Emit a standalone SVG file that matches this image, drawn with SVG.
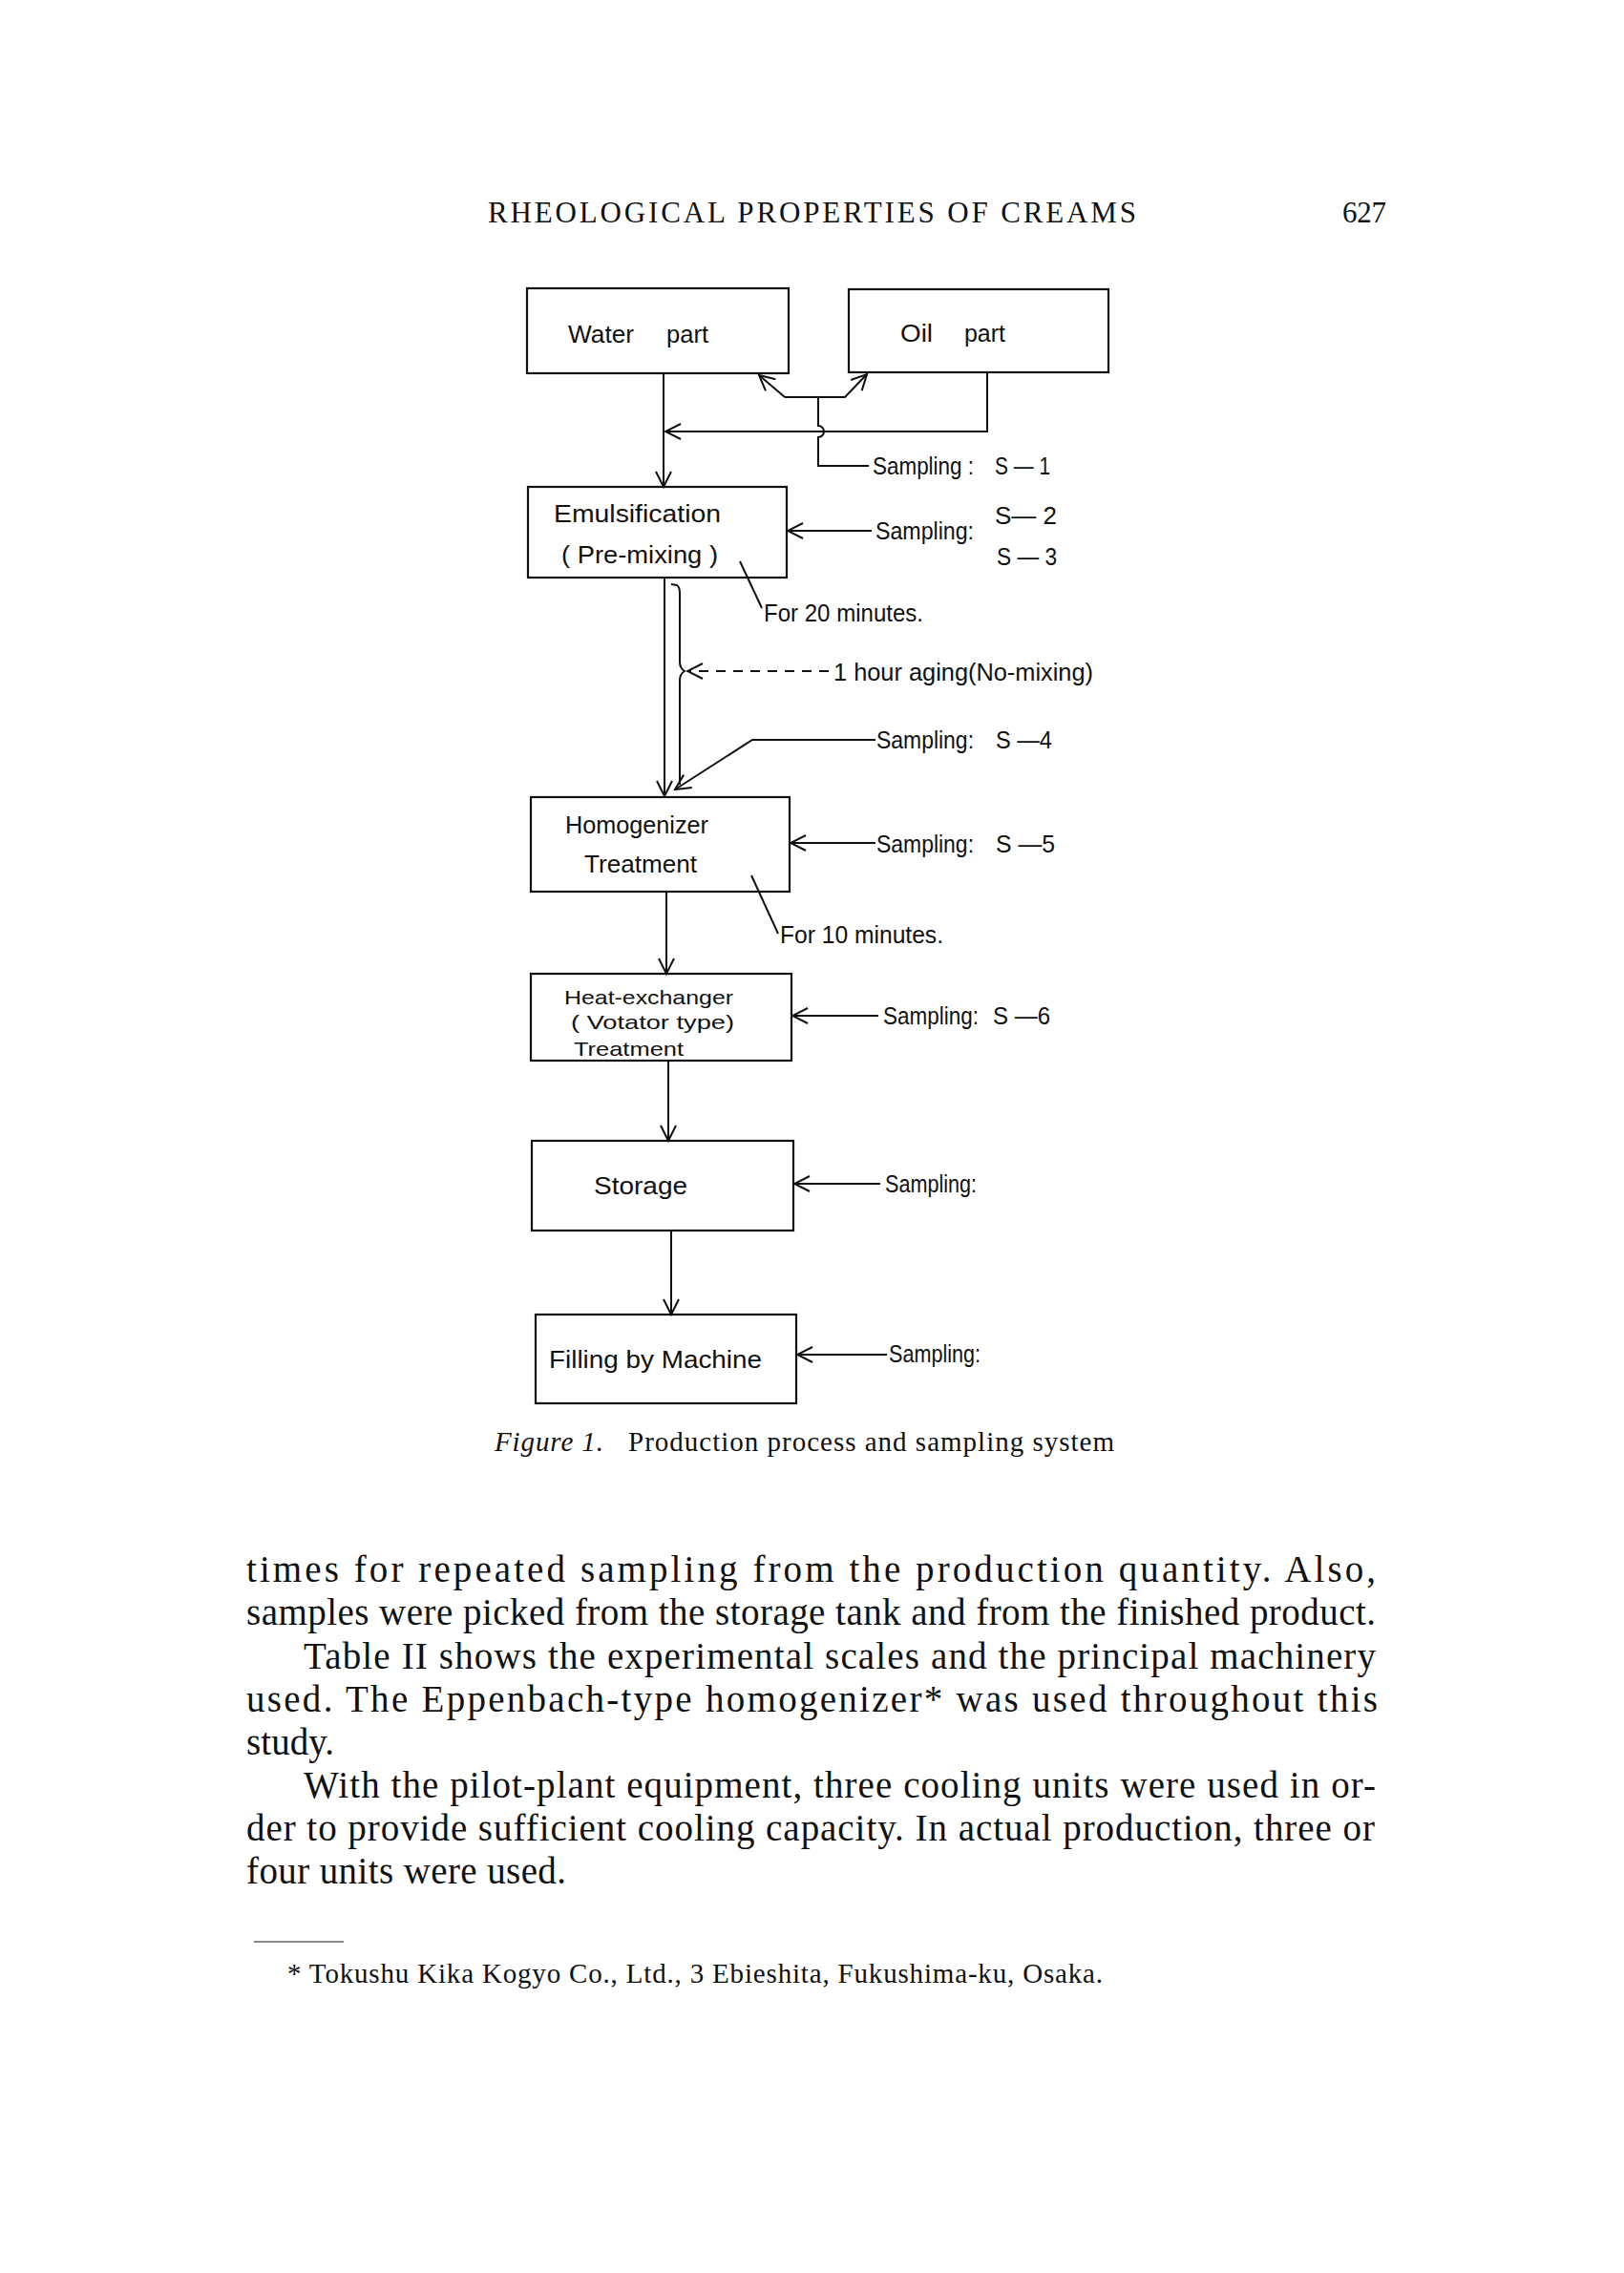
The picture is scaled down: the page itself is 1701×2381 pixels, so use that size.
<svg xmlns="http://www.w3.org/2000/svg" width="1701" height="2381" viewBox="0 0 1701 2381">
<style>
.bg{fill:#ffffff}
.box{fill:none;stroke:#111;stroke-width:2.2}
.ln{fill:none;stroke:#111;stroke-width:2}
.dash{fill:none;stroke:#111;stroke-width:2;stroke-dasharray:10 8}
.lbl{font-family:"Liberation Sans Narrow","Liberation Sans",Arial,sans-serif;font-size:25px;fill:#111}
.sm{font-size:21px}
.body{font-family:"Liberation Serif","Times New Roman",serif;font-size:39px;fill:#111}
.cap{font-family:"Liberation Serif","Times New Roman",serif;font-size:29px;fill:#111}
.head{font-family:"Liberation Serif","Times New Roman",serif;font-size:31px;fill:#111}
</style>
<defs>
<marker id="arr" viewBox="0 0 20 20" refX="18" refY="10" markerWidth="20" markerHeight="20" markerUnits="userSpaceOnUse" orient="auto">
<path d="M2,2 L18,10 L2,18" fill="none" stroke="#111" stroke-width="2" stroke-dasharray="none"/>
</marker>
</defs>
<rect class="bg" x="0" y="0" width="1701" height="2381"/>

<g id="header">
<text class="head" x="511" y="233" textLength="679" lengthAdjust="spacing">RHEOLOGICAL PROPERTIES OF CREAMS</text>
<text class="head" x="1406" y="233" textLength="46" lengthAdjust="spacing">627</text>
</g>

<g id="connectors">
<line class="ln" x1="695" y1="391" x2="695" y2="510" marker-end="url(#arr)"/>
<polyline class="ln" points="1034,390 1034,452 697,452" marker-end="url(#arr)"/>
<line class="ln" x1="822" y1="416" x2="795" y2="393" marker-end="url(#arr)"/>
<polyline class="ln" points="822,416 885,416 908,392" marker-end="url(#arr)"/>
<path class="ln" d="M857,416 L857,446 A6,6 0 0 1 857,458 L857,488 L910,488"/>
<line class="ln" x1="913" y1="556" x2="825" y2="556" marker-end="url(#arr)"/>
<line class="ln" x1="775" y1="588" x2="798" y2="637"/>
<line class="ln" x1="696" y1="605" x2="696" y2="834" marker-end="url(#arr)"/>
<path class="ln" d="M703,612 L709,613 Q712,615 712,621 L712,693 Q712,700 717,703 Q712,706 712,713 L712,822"/>
<line class="dash" x1="868" y1="703" x2="720" y2="703" marker-end="url(#arr)"/>
<polyline class="ln" points="917,775 788,775 707,827" marker-end="url(#arr)"/>
<line class="ln" x1="917" y1="883" x2="828" y2="883" marker-end="url(#arr)"/>
<line class="ln" x1="787" y1="917" x2="815" y2="978"/>
<line class="ln" x1="698" y1="934" x2="698" y2="1020" marker-end="url(#arr)"/>
<line class="ln" x1="920" y1="1064" x2="830" y2="1064" marker-end="url(#arr)"/>
<line class="ln" x1="700" y1="1111" x2="700" y2="1195" marker-end="url(#arr)"/>
<line class="ln" x1="922" y1="1240" x2="832" y2="1240" marker-end="url(#arr)"/>
<line class="ln" x1="703" y1="1289" x2="703" y2="1377" marker-end="url(#arr)"/>
<line class="ln" x1="929" y1="1419" x2="835" y2="1419" marker-end="url(#arr)"/>
</g>

<g id="water-part">
<rect class="box" x="552" y="302" width="274" height="89"/>
<text class="lbl" x="595" y="359" textLength="69" lengthAdjust="spacingAndGlyphs">Water</text>
<text class="lbl" x="698" y="359" textLength="44" lengthAdjust="spacingAndGlyphs">part</text>
</g>

<g id="oil-part">
<rect class="box" x="889" y="303" width="272" height="87"/>
<text class="lbl" x="943" y="358" textLength="34" lengthAdjust="spacingAndGlyphs">Oil</text>
<text class="lbl" x="1010" y="358" textLength="43" lengthAdjust="spacingAndGlyphs">part</text>
</g>

<g id="sampling-s1">
<text class="lbl" x="914" y="497" textLength="106" lengthAdjust="spacingAndGlyphs">Sampling :</text>
<text class="lbl" x="1042" y="497" textLength="58" lengthAdjust="spacingAndGlyphs">S — 1</text>
</g>

<g id="emulsification">
<rect class="box" x="553" y="510" width="271" height="95"/>
<text class="lbl" x="580" y="547" textLength="175" lengthAdjust="spacingAndGlyphs">Emulsification</text>
<text class="lbl" x="588" y="590" textLength="164" lengthAdjust="spacingAndGlyphs">( Pre-mixing )</text>
</g>

<g id="sampling-s2-s3">
<text class="lbl" x="917" y="565" textLength="103" lengthAdjust="spacingAndGlyphs">Sampling:</text>
<text class="lbl" x="1042" y="549" textLength="65" lengthAdjust="spacingAndGlyphs">S— 2</text>
<text class="lbl" x="1044" y="592" textLength="63" lengthAdjust="spacingAndGlyphs">S — 3</text>
</g>

<g id="note-20min">
<text class="lbl" x="800" y="651" textLength="167" lengthAdjust="spacingAndGlyphs">For 20 minutes.</text>
</g>

<g id="note-aging">
<text class="lbl" x="873" y="713" textLength="272" lengthAdjust="spacingAndGlyphs">1 hour aging(No-mixing)</text>
</g>

<g id="sampling-s4">
<text class="lbl" x="918" y="784" textLength="102" lengthAdjust="spacingAndGlyphs">Sampling:</text>
<text class="lbl" x="1043" y="784" textLength="59" lengthAdjust="spacingAndGlyphs">S —4</text>
</g>

<g id="homogenizer">
<rect class="box" x="556" y="835" width="271" height="99"/>
<text class="lbl" x="592" y="873" textLength="150" lengthAdjust="spacingAndGlyphs">Homogenizer</text>
<text class="lbl" x="612" y="914" textLength="118" lengthAdjust="spacingAndGlyphs">Treatment</text>
</g>

<g id="sampling-s5">
<text class="lbl" x="918" y="893" textLength="102" lengthAdjust="spacingAndGlyphs">Sampling:</text>
<text class="lbl" x="1043" y="893" textLength="62" lengthAdjust="spacingAndGlyphs">S —5</text>
</g>

<g id="note-10min">
<text class="lbl" x="817" y="988" textLength="171" lengthAdjust="spacingAndGlyphs">For 10 minutes.</text>
</g>

<g id="heat-exchanger">
<rect class="box" x="556" y="1020" width="273" height="91"/>
<text class="lbl sm" x="591" y="1052" textLength="177" lengthAdjust="spacingAndGlyphs">Heat-exchanger</text>
<text class="lbl sm" x="598" y="1078" textLength="171" lengthAdjust="spacingAndGlyphs">( Votator type)</text>
<text class="lbl sm" x="601" y="1106" textLength="115" lengthAdjust="spacingAndGlyphs">Treatment</text>
</g>

<g id="sampling-s6">
<text class="lbl" x="925" y="1073" textLength="100" lengthAdjust="spacingAndGlyphs">Sampling:</text>
<text class="lbl" x="1040" y="1073" textLength="60" lengthAdjust="spacingAndGlyphs">S —6</text>
</g>

<g id="storage">
<rect class="box" x="557" y="1195" width="274" height="94"/>
<text class="lbl" x="622" y="1251" textLength="98" lengthAdjust="spacingAndGlyphs">Storage</text>
</g>

<g id="sampling-storage">
<text class="lbl" x="927" y="1249" textLength="96" lengthAdjust="spacingAndGlyphs">Sampling:</text>
</g>

<g id="filling">
<rect class="box" x="561" y="1377" width="273" height="93"/>
<text class="lbl" x="575" y="1433" textLength="223" lengthAdjust="spacingAndGlyphs">Filling by Machine</text>
</g>

<g id="sampling-filling">
<text class="lbl" x="931" y="1427" textLength="96" lengthAdjust="spacingAndGlyphs">Sampling:</text>
</g>

<g id="caption">
<text class="cap" x="518" y="1520" textLength="114" lengthAdjust="spacing" font-style="italic">Figure 1.</text>
<text class="cap" x="658" y="1520" textLength="509" lengthAdjust="spacing">Production process and sampling system</text>
</g>

<g id="body-text">
<text class="body" x="258" y="1657" textLength="1183" lengthAdjust="spacing">times for repeated sampling from the production quantity. Also,</text>
<text class="body" x="258" y="1702" textLength="1183" lengthAdjust="spacing">samples were picked from the storage tank and from the finished product.</text>
<text class="body" x="318" y="1748" textLength="1123" lengthAdjust="spacing">Table II shows the experimental scales and the principal machinery</text>
<text class="body" x="258" y="1793" textLength="1185" lengthAdjust="spacing">used. The Eppenbach-type homogenizer* was used throughout this</text>
<text class="body" x="258" y="1838" textLength="92" lengthAdjust="spacing">study.</text>
<text class="body" x="318" y="1883" textLength="1123" lengthAdjust="spacing">With the pilot-plant equipment, three cooling units were used in or-</text>
<text class="body" x="258" y="1928" textLength="1182" lengthAdjust="spacing">der to provide sufficient cooling capacity. In actual production, three or</text>
<text class="body" x="258" y="1973" textLength="335" lengthAdjust="spacing">four units were used.</text>
</g>

<g id="footnote">
<line class="ln" x1="266" y1="2034" x2="360" y2="2034" style="stroke-width:1.2"/>
<text class="cap" x="301" y="2077" textLength="854" lengthAdjust="spacing">* Tokushu Kika Kogyo Co., Ltd., 3 Ebieshita, Fukushima-ku, Osaka.</text>
</g>
</svg>
